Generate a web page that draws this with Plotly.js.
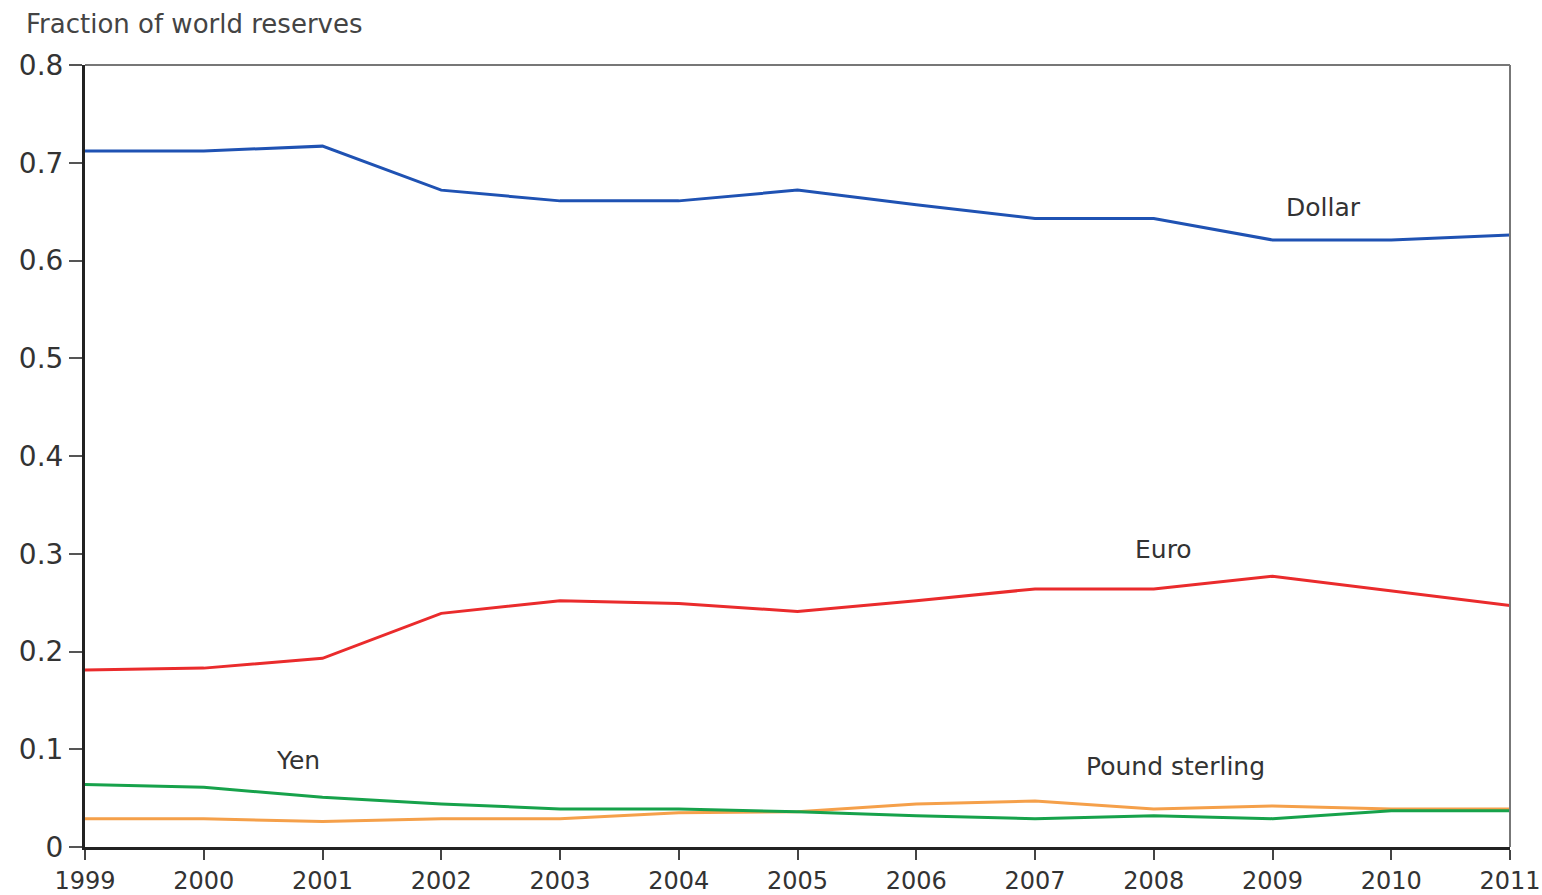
<!DOCTYPE html>
<html>
<head>
<meta charset="utf-8">
<script src="https://cdn.plot.ly/plotly-3.0.1.min.js"></script>
<style>
html,body{margin:0;padding:0;background:#fff;}
#chart{width:1542px;height:895px;}
</style>
</head>
<body>
<div id="chart"></div>
<script>
const years = [1999,2000,2001,2002,2003,2004,2005,2006,2007,2008,2009,2010,2011];
const dollar = [0.712,0.712,0.717,0.672,0.661,0.661,0.672,0.657,0.643,0.643,0.621,0.621,0.626];
const euro   = [0.181,0.183,0.193,0.239,0.252,0.249,0.241,0.252,0.264,0.264,0.277,0.262,0.247];
const yen    = [0.064,0.061,0.051,0.044,0.039,0.039,0.036,0.032,0.029,0.032,0.029,0.037,0.037];
const pound  = [0.029,0.029,0.026,0.029,0.029,0.035,0.036,0.044,0.047,0.039,0.042,0.039,0.039];
const yTicks = [0,0.1,0.2,0.3,0.4,0.5,0.6,0.7,0.8];
const yTickText = ['0','0.1','0.2','0.3','0.4','0.5','0.6','0.7','0.8'];

const FONT = 'DejaVu Sans, Liberation Sans, Arial, sans-serif';

const traces = [
  {x: years, y: pound,  mode:'lines', line:{color:'#f5a04a', width:3}, name:'Pound sterling'},
  {x: years, y: yen,    mode:'lines', line:{color:'#17a24b', width:3}, name:'Yen'},
  {x: years, y: euro,   mode:'lines', line:{color:'#ea2b2c', width:3}, name:'Euro'},
  {x: years, y: dollar, mode:'lines', line:{color:'#1f52b3', width:3}, name:'Dollar'}
];

const labelFont = {family: FONT, size: 25, color:'#333'};

const layout = {
  width:1542, height:895,
  margin:{l:85, r:32, t:65, b:48, pad:0},
  paper_bgcolor:'#fff', plot_bgcolor:'#fff',
  showlegend:false,
  font:{family: FONT, color:'#333'},
  xaxis:{
    range:[1999,2011], tickvals: years, ticktext: years.map(String),
    ticks:'outside', ticklen:10, tickwidth:2, tickcolor:'#444',
    showline:true, linecolor:'#222', linewidth:3,
    showgrid:false, zeroline:false,
    tickfont:{family: FONT, size:24, color:'#333'}
  },
  yaxis:{
    range:[0,0.8], tickvals: yTicks, ticktext: yTickText,
    ticks:'outside', ticklen:13, tickwidth:2, tickcolor:'#555',
    showline:true, linecolor:'#222', linewidth:3,
    showgrid:false, zeroline:false,
    tickfont:{family: FONT, size:28, color:'#333'}
  },
  shapes:[
    {type:'line', xref:'paper', yref:'paper', x0:0, x1:1, y0:1, y1:1, line:{color:'#777', width:2}},
    {type:'line', xref:'paper', yref:'paper', x0:1, x1:1, y0:0, y1:1, line:{color:'#777', width:2}}
  ],
  annotations:[
    {xref:'paper', yref:'paper', x:-0.0425, y:1.0525, xanchor:'left', yanchor:'middle',
     text:'Fraction of world reserves', showarrow:false, font:{family: FONT, size:26, color:'#444'}},
    {x:2009.43, y:0.654, text:'Dollar', showarrow:false, font:labelFont},
    {x:2008.08, y:0.304, text:'Euro', showarrow:false, font:labelFont},
    {x:2000.79, y:0.089, text:'Yen', showarrow:false, font:labelFont},
    {x:2008.18, y:0.082, text:'Pound sterling', showarrow:false, font:labelFont}
  ]
};

Plotly.newPlot('chart', traces, layout, {staticPlot:true, displayModeBar:false});
</script>
</body>
</html>
